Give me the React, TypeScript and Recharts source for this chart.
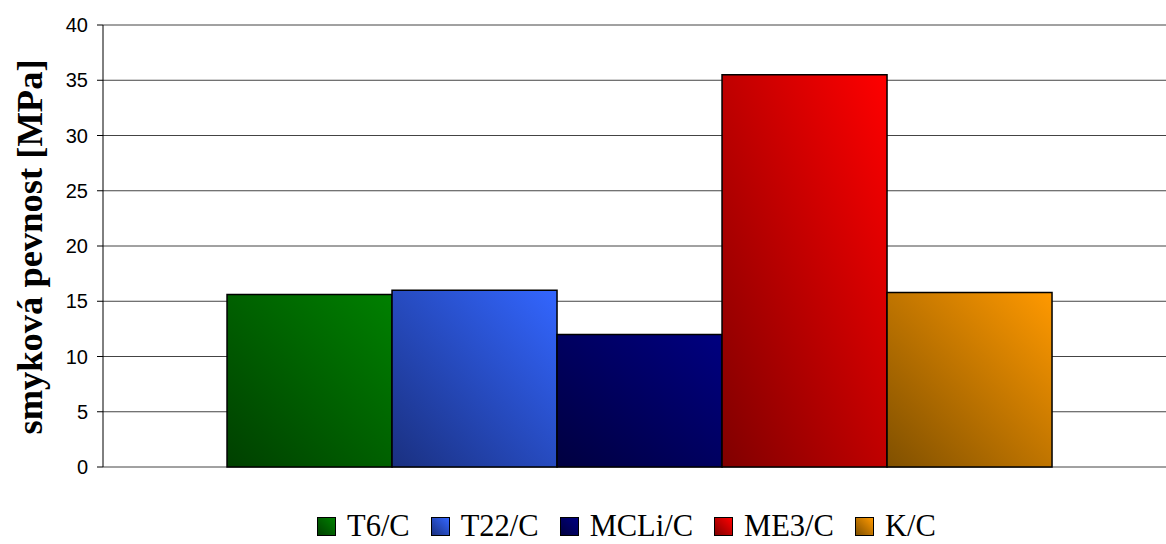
import { BarChart, Bar, XAxis, YAxis, CartesianGrid, Legend } from "recharts";

const seriesNames = ["T6/C", "T22/C", "MCLi/C", "ME3/C", "K/C"];
const strengthValues = [15.6, 16.0, 12.0, 35.5, 15.8];
const yTicks = [0, 5, 10, 15, 20, 25, 30, 35, 40];
const lightColors = ["#008000", "#3366ff", "#000080", "#ff0000", "#ff9900"];
const darkColors = ["#004000", "#1a3080", "#000040", "#800000", "#805000"];

const data = [
  seriesNames.reduce(
    (row, name, i) => ({ ...row, [name]: strengthValues[i] }),
    { name: "" } as Record<string, string | number>
  ),
];

const serif = '"Liberation Serif", "Times New Roman", serif';
const sans = '"Liberation Sans", Arial, sans-serif';

function LegendContent() {
  return (
    <div
      style={{
        width: 1166,
        height: 77,
        boxSizing: "border-box",
        paddingTop: 46,
        paddingLeft: 317,
        whiteSpace: "nowrap",
        fontFamily: serif,
        fontSize: 30.5,
        lineHeight: "26px",
        color: "#000",
        textAlign: "left",
      }}
    >
      {seriesNames.map((name, i) => (
        <span key={name} style={{ marginRight: 21 }}>
          <span
            style={{
              display: "inline-block",
              width: 17,
              height: 17,
              border: "1px solid #000",
              marginRight: 11,
              verticalAlign: "baseline",
              background: `linear-gradient(to top right, ${darkColors[i]}, ${lightColors[i]})`,
            }}
          />
          {name}
        </span>
      ))}
    </div>
  );
}

export default function App() {
  return (
    <div
      style={{
        position: "absolute",
        left: 0,
        top: 0,
        width: 1166,
        height: 544,
        overflow: "hidden",
        background: "#fff",
      }}
    >
      <BarChart
        width={1175}
        height={544}
        data={data}
        margin={{ top: 25, right: 0, left: 0, bottom: 0 }}
        barGap={0}
        barCategoryGap="11.57%"
      >
        <defs>
          {seriesNames.map((name, i) => (
            <linearGradient key={name} id={`grad${i}`} x1="0" y1="1" x2="1" y2="0">
              <stop offset="0%" stopColor={darkColors[i]} />
              <stop offset="100%" stopColor={lightColors[i]} />
            </linearGradient>
          ))}
        </defs>
        <CartesianGrid vertical={false} stroke="#444" />
        <XAxis dataKey="name" tick={false} tickLine={false} height={0} axisLine={{ stroke: "#000", strokeWidth: 1.5 }} />
        <YAxis
          width={103}
          domain={[0, 40]}
          ticks={yTicks}
          interval={0}
          axisLine={{ stroke: "#000" }}
          tickLine={{ stroke: "#000" }}
          tickSize={6}
          tickMargin={9}
          tick={{ fontFamily: sans, fontSize: 20, fill: "#000" }}
          label={{
            content: () => (
              <text
                x={29}
                y={247}
                transform="rotate(-90, 29, 247)"
                textAnchor="middle"
                dominantBaseline="central"
                fontFamily={serif}
                fontWeight="bold"
                fontSize={36.5}
                fill="#000"
              >
                smyková pevnost [MPa]
              </text>
            ),
          }}
        />
        <Legend verticalAlign="bottom" align="left" content={<LegendContent />} />
        {seriesNames.map((name, i) => (
          <Bar
            key={name}
            dataKey={name}
            fill={`url(#grad${i})`}
            stroke="#000"
            strokeWidth={1.5}
            isAnimationActive={false}
          />
        ))}
      </BarChart>
    </div>
  );
}
